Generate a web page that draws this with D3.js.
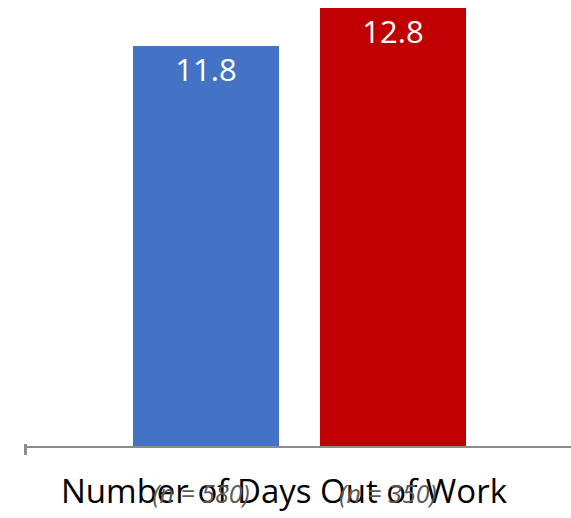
<!DOCTYPE html>
<html>
<head>
<meta charset="utf-8">
<script src="https://cdn.jsdelivr.net/npm/d3@7"></script>
<style>
  html, body { margin: 0; padding: 0; background: #fff; }
  svg { display: block; }
</style>
</head>
<body>
<svg id="chart" width="571" height="518"></svg>
<script>
// Average days out of work, by group
const groups = ["A", "B"];
const values = [11.8, 12.8];
const sampleLabels = ["(n = 580)", "(n = 350)"];
const colors = ["#4472C4", "#C00000"];
const categoryLabel = "Number of Days Out of Work";

const svg = d3.select("#chart");
const width = 571, height = 518;
const baseY = 446;

const x = d3.scaleBand()
  .domain(groups)
  .range([133, 466])
  .paddingInner(0.219)
  .paddingOuter(0);

// value axis is not drawn; its lower bound sits slightly above zero
const y = d3.scaleLinear()
  .domain([1.27, 12.8])
  .range([baseY, 8]);

svg.selectAll("rect.bar")
  .data(values)
  .join("rect")
  .attr("class", "bar")
  .attr("x", (d, i) => x(groups[i]))
  .attr("width", x.bandwidth())
  .attr("y", d => y(d))
  .attr("height", d => baseY - y(d))
  .attr("fill", (d, i) => colors[i]);

// value labels inside bar tops
svg.selectAll("text.val")
  .data(values)
  .join("text")
  .attr("class", "val")
  .attr("x", (d, i) => x(groups[i]) + x.bandwidth() / 2)
  .attr("y", d => y(d) + 35)
  .attr("text-anchor", "middle")
  .attr("font-family", "'Open Sans', sans-serif")
  .attr("font-size", 31)
  .attr("fill", "#fff")
  .text(d => d.toFixed(1));

// category axis line with a tick at its left end
const axisG = svg.append("g");
axisG.append("line")
  .attr("x1", 24).attr("x2", width)
  .attr("y1", baseY + 1).attr("y2", baseY + 1)
  .attr("stroke", "#8c8c8c").attr("stroke-width", 2);
axisG.append("line")
  .attr("x1", 25.5).attr("x2", 25.5)
  .attr("y1", 444).attr("y2", 455)
  .attr("stroke", "#8c8c8c").attr("stroke-width", 3);

// category label
svg.append("text")
  .attr("x", 284)
  .attr("y", 503)
  .attr("text-anchor", "middle")
  .attr("font-family", "'Open Sans', sans-serif")
  .attr("font-size", 33)
  .attr("fill", "#000")
  .text(categoryLabel);

// sample sizes under each bar
svg.selectAll("text.n")
  .data(sampleLabels)
  .join("text")
  .attr("class", "n")
  .attr("x", (d, i) => x(groups[i]) + x.bandwidth() / 2 - 5)
  .attr("y", 503)
  .attr("text-anchor", "middle")
  .attr("font-family", "'Open Sans', sans-serif")
  .attr("font-style", "italic")
  .attr("font-size", 25)
  .attr("fill", "#595959")
  .text(d => d);
</script>
</body>
</html>
